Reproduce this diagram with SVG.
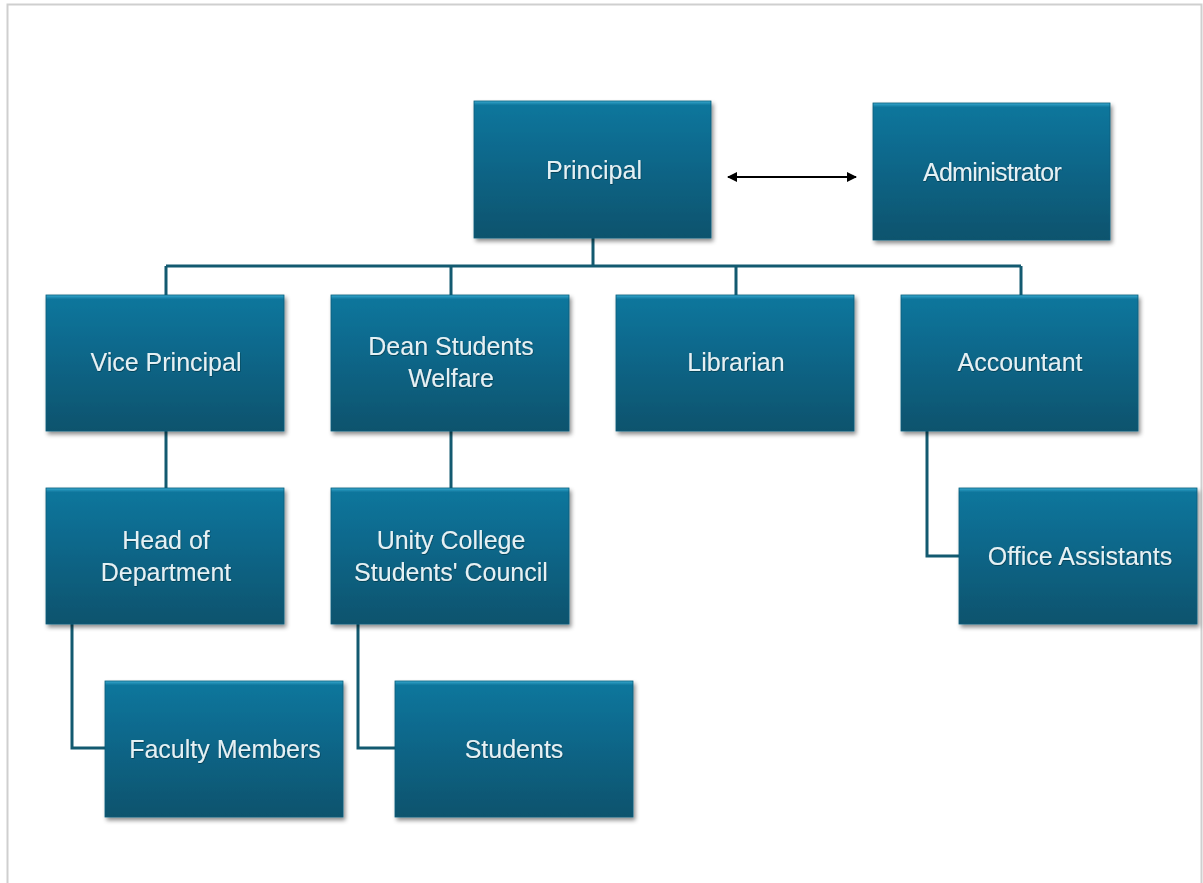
<svg xmlns="http://www.w3.org/2000/svg" width="1203" height="883" viewBox="0 0 1203 883">
<defs>
<linearGradient id="g" x1="0" y1="0" x2="0" y2="1">
<stop offset="0" stop-color="#3aa9d0"/>
<stop offset="0.03" stop-color="#0d769c"/>
<stop offset="0.35" stop-color="#076a8e"/>
<stop offset="1" stop-color="#0a536d"/>
</linearGradient>
<filter id="sh" x="-10%" y="-10%" width="125%" height="130%">
<feDropShadow dx="2" dy="3" stdDeviation="2" flood-color="#000" flood-opacity="0.45"/>
</filter>
<filter id="ts" x="-10%" y="-30%" width="120%" height="160%">
<feDropShadow dx="0.5" dy="0.8" stdDeviation="0.6" flood-color="#02303f" flood-opacity="0.8"/>
</filter>
<marker id="ah" viewBox="0 0 10 10" refX="9" refY="5" markerWidth="11" markerHeight="10" markerUnits="userSpaceOnUse" orient="auto-start-reverse">
<path d="M0,0 L10,5 L0,10 z" fill="#000"/>
</marker>
<style>
.box{fill:url(#g);stroke:#0a5d7a;stroke-width:0.8;filter:url(#sh)}
.lbl{font-family:"Liberation Sans",Arial,sans-serif;font-size:25px;fill:#e4f1f5;text-anchor:middle;filter:url(#ts)}
.con{fill:none;stroke:#135a70;stroke-width:3}
</style>
</defs>
<rect x="0" y="0" width="1203" height="883" fill="#fff"/>
<path d="M7.5,883 V4.5 H1201.5 V883" fill="none" stroke="#cfcfcf" stroke-width="2"/>
<g id="connectors">
<path class="con" d="M593,238 V266 M166,266 H1021 M166,266 V295 M451,266 V295 M736,266 V295 M1021,266 V295"/>
<path class="con" d="M166,431 V488 M451,431 V488"/>
<path class="con" d="M72,624 V748 H105 M358,624 V748 H395 M927,431 V556 H959"/>
<line x1="728" y1="177" x2="856" y2="177" stroke="#000" stroke-width="2" marker-start="url(#ah)" marker-end="url(#ah)"/>
</g>
<g id="principal"><rect class="box" x="474" y="101" width="237" height="137"/><text class="lbl" x="594" y="179">Principal</text></g>
<g id="administrator"><rect class="box" x="873" y="103" width="237" height="137"/><text class="lbl" x="992" y="181" letter-spacing="-0.7">Administrator</text></g>
<g id="vice-principal"><rect class="box" x="46" y="295" width="238" height="136"/><text class="lbl" x="166" y="371">Vice Principal</text></g>
<g id="dean"><rect class="box" x="331" y="295" width="238" height="136"/><text class="lbl" x="451" y="355">Dean Students</text><text class="lbl" x="451" y="387">Welfare</text></g>
<g id="librarian"><rect class="box" x="616" y="295" width="238" height="136"/><text class="lbl" x="736" y="371">Librarian</text></g>
<g id="accountant"><rect class="box" x="901" y="295" width="237" height="136"/><text class="lbl" x="1020" y="371">Accountant</text></g>
<g id="head-of-department"><rect class="box" x="46" y="488" width="238" height="136"/><text class="lbl" x="166" y="549">Head of</text><text class="lbl" x="166" y="581">Department</text></g>
<g id="students-council"><rect class="box" x="331" y="488" width="238" height="136"/><text class="lbl" x="451" y="549">Unity College</text><text class="lbl" x="451" y="581">Students' Council</text></g>
<g id="office-assistants"><rect class="box" x="959" y="488" width="238" height="136"/><text class="lbl" x="1080" y="565">Office Assistants</text></g>
<g id="faculty-members"><rect class="box" x="105" y="681" width="238" height="136"/><text class="lbl" x="225" y="758">Faculty Members</text></g>
<g id="students"><rect class="box" x="395" y="681" width="238" height="136"/><text class="lbl" x="514" y="758">Students</text></g>
</svg>
